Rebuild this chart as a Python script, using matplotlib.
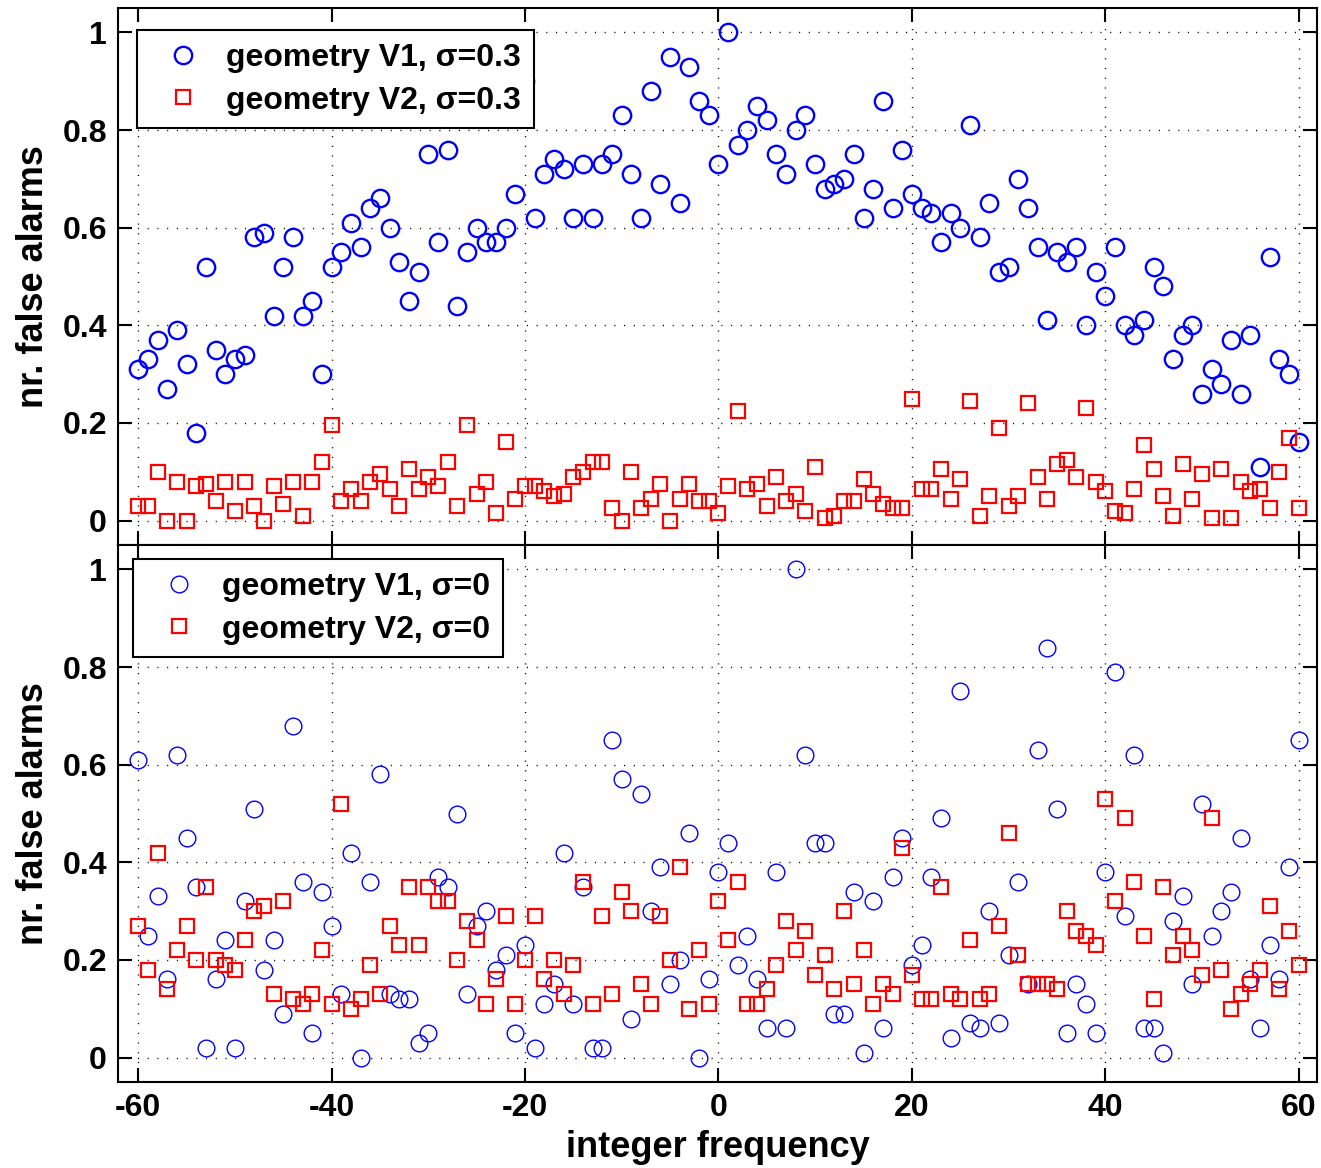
import numpy as np
import matplotlib
matplotlib.use("Agg")
import matplotlib.pyplot as plt

plt.rcParams['font.family'] = ['Liberation Sans', 'DejaVu Sans']
plt.rcParams['font.weight'] = 'bold'
plt.rcParams['axes.unicode_minus'] = False

freq = np.arange(-60, 61)

v1_sigma03 = [0.31, 0.33, 0.37, 0.27, 0.39, 0.32, 0.18, 0.52, 0.35, 0.30,
              0.33, 0.34, 0.58, 0.59, 0.42, 0.52, 0.58, 0.42, 0.45, 0.30,
              0.52, 0.55, 0.61, 0.56, 0.64, 0.66, 0.60, 0.53, 0.45, 0.51,
              0.75, 0.57, 0.76, 0.44, 0.55, 0.60, 0.57, 0.57, 0.60, 0.67,
              0.90, 0.62, 0.71, 0.74, 0.72, 0.62, 0.73, 0.62, 0.73, 0.75,
              0.83, 0.71, 0.62, 0.88, 0.69, 0.95, 0.65, 0.93, 0.86, 0.83,
              0.73, 1.00, 0.77, 0.80, 0.85, 0.82, 0.75, 0.71, 0.80, 0.83,
              0.73, 0.68, 0.69, 0.70, 0.75, 0.62, 0.68, 0.86, 0.64, 0.76,
              0.67, 0.64, 0.63, 0.57, 0.63, 0.60, 0.81, 0.58, 0.65, 0.51,
              0.52, 0.70, 0.64, 0.56, 0.41, 0.55, 0.53, 0.56, 0.40, 0.51,
              0.46, 0.56, 0.40, 0.38, 0.41, 0.52, 0.48, 0.33, 0.38, 0.40,
              0.26, 0.31, 0.28, 0.37, 0.26, 0.38, 0.11, 0.54, 0.33, 0.30, 0.16]

v2_sigma03 = [0.03, 0.03, 0.10, 0.0, 0.08, 0.0, 0.07, 0.075, 0.04, 0.08,
              0.02, 0.08, 0.03, 0.0, 0.07, 0.035, 0.08, 0.01, 0.08, 0.12,
              0.195, 0.04, 0.065, 0.04, 0.08, 0.095, 0.065, 0.03, 0.105, 0.065,
              0.09, 0.07, 0.12, 0.03, 0.195, 0.055, 0.08, 0.015, 0.16, 0.045,
              0.07, 0.07, 0.06, 0.05, 0.055, 0.09, 0.10, 0.12, 0.12, 0.025,
              0.0, 0.10, 0.025, 0.045, 0.075, 0.0, 0.045, 0.075, 0.04, 0.04,
              0.015, 0.07, 0.225, 0.065, 0.075, 0.03, 0.09, 0.04, 0.055, 0.02,
              0.11, 0.005, 0.01, 0.04, 0.04, 0.085, 0.055, 0.035, 0.025, 0.025,
              0.25, 0.065, 0.065, 0.105, 0.045, 0.085, 0.245, 0.01, 0.05, 0.19,
              0.03, 0.05, 0.24, 0.09, 0.045, 0.115, 0.125, 0.09, 0.23, 0.08,
              0.06, 0.02, 0.015, 0.065, 0.155, 0.105, 0.05, 0.01, 0.115, 0.045,
              0.095, 0.005, 0.105, 0.005, 0.08, 0.06, 0.065, 0.025, 0.10, 0.17, 0.025]

v1_sigma0 = [0.61, 0.25, 0.33, 0.16, 0.62, 0.45, 0.35, 0.02, 0.16, 0.24,
             0.02, 0.32, 0.51, 0.18, 0.24, 0.09, 0.68, 0.36, 0.05, 0.34,
             0.27, 0.13, 0.42, 0.0, 0.36, 0.58, 0.13, 0.12, 0.12, 0.03,
             0.05, 0.37, 0.35, 0.50, 0.13, 0.27, 0.30, 0.18, 0.21, 0.05,
             0.23, 0.02, 0.11, 0.15, 0.42, 0.11, 0.35, 0.02, 0.02, 0.65,
             0.57, 0.08, 0.54, 0.30, 0.39, 0.15, 0.20, 0.46, 0.0, 0.16,
             0.38, 0.44, 0.19, 0.25, 0.16, 0.06, 0.38, 0.06, 1.0, 0.62,
             0.44, 0.44, 0.09, 0.09, 0.34, 0.01, 0.32, 0.06, 0.37, 0.45,
             0.19, 0.23, 0.37, 0.49, 0.04, 0.75, 0.07, 0.06, 0.30, 0.07,
             0.21, 0.36, 0.15, 0.63, 0.84, 0.51, 0.05, 0.15, 0.11, 0.05,
             0.38, 0.79, 0.29, 0.62, 0.06, 0.06, 0.01, 0.28, 0.33, 0.15,
             0.52, 0.25, 0.30, 0.34, 0.45, 0.16, 0.06, 0.23, 0.16, 0.39, 0.65]

v2_sigma0 = [0.27, 0.18, 0.42, 0.14, 0.22, 0.27, 0.20, 0.35, 0.20, 0.19,
             0.18, 0.24, 0.30, 0.31, 0.13, 0.32, 0.12, 0.11, 0.13, 0.22,
             0.11, 0.52, 0.10, 0.12, 0.19, 0.13, 0.27, 0.23, 0.35, 0.23,
             0.35, 0.32, 0.32, 0.20, 0.28, 0.24, 0.11, 0.16, 0.29, 0.11,
             0.20, 0.29, 0.16, 0.20, 0.13, 0.19, 0.36, 0.11, 0.29, 0.13,
             0.34, 0.30, 0.15, 0.11, 0.29, 0.20, 0.39, 0.10, 0.22, 0.11,
             0.32, 0.24, 0.36, 0.11, 0.11, 0.14, 0.19, 0.28, 0.22, 0.26,
             0.17, 0.21, 0.14, 0.30, 0.15, 0.22, 0.11, 0.15, 0.13, 0.43,
             0.17, 0.12, 0.12, 0.35, 0.13, 0.12, 0.24, 0.12, 0.13, 0.27,
             0.46, 0.21, 0.15, 0.15, 0.15, 0.14, 0.30, 0.26, 0.25, 0.23,
             0.53, 0.32, 0.49, 0.36, 0.25, 0.12, 0.35, 0.21, 0.25, 0.22,
             0.17, 0.49, 0.18, 0.10, 0.13, 0.15, 0.18, 0.31, 0.14, 0.26, 0.19]

xticks = [-60, -40, -20, 0, 20, 40, 60]
yticks = [0, 0.2, 0.4, 0.6, 0.8, 1]
ytick_labels = ['0', '0.2', '0.4', '0.6', '0.8', '1']
labels_top = ['geometry V1, \u03c3=0.3', 'geometry V2, \u03c3=0.3']
labels_bot = ['geometry V1, \u03c3=0', 'geometry V2, \u03c3=0']

W, H = 1321, 1168
fig = plt.figure(figsize=(W / 100, H / 100), dpi=100)

left = 118 / W
width = 1199 / W
ax1 = fig.add_axes([left, 1 - 545 / H, width, 537 / H])
ax2 = fig.add_axes([left, 1 - 1082 / H, width, 537 / H])

blue = (0, 0, 1)
red = (1, 0, 0)


def style(ax, show_x):
    ax.set_xlim(-62.1, 61.9)
    ax.set_ylim(-0.05, 1.05)
    ax.set_xticks(xticks)
    ax.set_xticklabels([str(t) for t in xticks])
    ax.set_yticks(yticks)
    ax.set_yticklabels(ytick_labels)
    ax.grid(True, color='black', linestyle=(0, (0.8, 6.2)), linewidth=1.0)
    ax.set_axisbelow(True)
    ax.tick_params(direction='in', length=10, width=1.5, top=True, right=True,
                   labelsize=23, pad=8)
    for lab in ax.get_xticklabels() + ax.get_yticklabels():
        lab.set_fontweight('bold')
    if not show_x:
        ax.tick_params(labelbottom=False)
    for s in ax.spines.values():
        s.set_linewidth(1.5)
    ax.set_ylabel('nr. false alarms', fontsize=26, fontweight='bold', labelpad=8)


ax1.plot(freq, v1_sigma03, linestyle='none', marker='o', markersize=12.5,
         markerfacecolor='none', markeredgecolor=blue, markeredgewidth=1.7,
         label=labels_top[0])
ax1.plot(freq, v2_sigma03, linestyle='none', marker='s', markersize=9.5,
         markerfacecolor='none', markeredgecolor=red, markeredgewidth=1.6,
         label=labels_top[1])
style(ax1, False)

ax2.plot(freq, v1_sigma0, linestyle='none', marker='o', markersize=12,
         markerfacecolor='none', markeredgecolor=blue, markeredgewidth=1.0,
         label=labels_bot[0])
ax2.plot(freq, v2_sigma0, linestyle='none', marker='s', markersize=9.5,
         markerfacecolor='none', markeredgecolor=red, markeredgewidth=1.6,
         label=labels_bot[1])
style(ax2, True)
ax2.set_xlabel('integer frequency', fontsize=26, fontweight='bold', labelpad=5)

leg_kw = dict(fancybox=False, shadow=False, framealpha=1, edgecolor='black',
              prop={'weight': 'bold', 'size': 23}, borderpad=0.4,
              handlelength=2.1, handletextpad=0.3, labelspacing=0.4,
              borderaxespad=0, loc='upper left', numpoints=1)
l1 = ax1.legend(bbox_to_anchor=((137 - 118) / 1199, 1 - (30 - 8) / 537), **leg_kw)
l2 = ax2.legend(bbox_to_anchor=((133 - 118) / 1199, 1 - (559 - 545) / 537), **leg_kw)
for l in (l1, l2):
    l.get_frame().set_linewidth(1.5)
    l.set_zorder(5)

fig.savefig('out.png', dpi=100)
